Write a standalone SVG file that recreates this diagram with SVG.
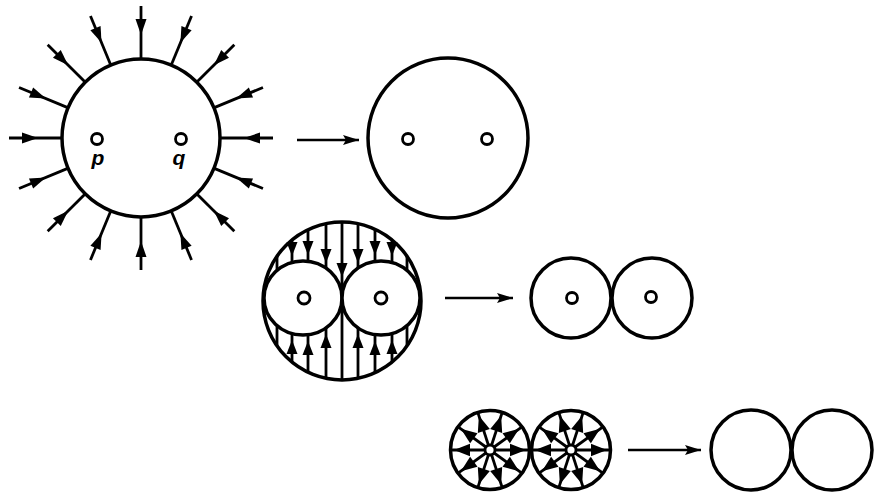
<svg xmlns="http://www.w3.org/2000/svg" xmlns:xlink="http://www.w3.org/1999/xlink" width="878" height="492" viewBox="0 0 878 492">
<style>
.big{fill:#fff;stroke:#000;stroke-width:3.5}
.hole{fill:#fff;stroke:#000;stroke-width:2.8}
.fl{stroke:#000;stroke-width:2.8;fill:none}
.head{fill:#000;stroke:none}
.conn{stroke:#000;stroke-width:2.4;fill:none}
.lbl{font-family:"Liberation Sans",Arial,sans-serif;font-weight:bold;font-style:italic;font-size:21px;fill:#000}
</style>
<defs>
<marker id="arr" markerUnits="userSpaceOnUse" markerWidth="17" markerHeight="11" refX="16" refY="5.5" orient="auto">
<path d="M0,0.5 L16,5.5 L0,10.5 L3,5.5 Z" fill="#000"/>
</marker>
<g id="inarrow">
<line class="fl" x1="78" y1="0" x2="132" y2="0"/>
<path class="head" d="M103,0 L119,-5.5 L119,5.5 Z"/>
</g>
<g id="spoke">
<line class="fl" x1="0" y1="0" x2="39" y2="0"/>
<path class="head" d="M36,0 L20,-6.3 L20,6.3 Z"/>
</g>
<path id="dn" class="head" d="M0,0 L-5.5,-14 L5.5,-14 Z"/>
<path id="up" class="head" d="M0,0 L-5.5,14 L5.5,14 Z"/>
</defs>

<g id="node-attract">
<use xlink:href="#inarrow" href="#inarrow" transform="translate(141,138) rotate(0)"/>
<use xlink:href="#inarrow" href="#inarrow" transform="translate(141,138) rotate(-22.5)"/>
<use xlink:href="#inarrow" href="#inarrow" transform="translate(141,138) rotate(-45)"/>
<use xlink:href="#inarrow" href="#inarrow" transform="translate(141,138) rotate(-67.5)"/>
<use xlink:href="#inarrow" href="#inarrow" transform="translate(141,138) rotate(-90)"/>
<use xlink:href="#inarrow" href="#inarrow" transform="translate(141,138) rotate(-112.5)"/>
<use xlink:href="#inarrow" href="#inarrow" transform="translate(141,138) rotate(-135)"/>
<use xlink:href="#inarrow" href="#inarrow" transform="translate(141,138) rotate(-157.5)"/>
<use xlink:href="#inarrow" href="#inarrow" transform="translate(141,138) rotate(180)"/>
<use xlink:href="#inarrow" href="#inarrow" transform="translate(141,138) rotate(157.5)"/>
<use xlink:href="#inarrow" href="#inarrow" transform="translate(141,138) rotate(135)"/>
<use xlink:href="#inarrow" href="#inarrow" transform="translate(141,138) rotate(112.5)"/>
<use xlink:href="#inarrow" href="#inarrow" transform="translate(141,138) rotate(90)"/>
<use xlink:href="#inarrow" href="#inarrow" transform="translate(141,138) rotate(67.5)"/>
<use xlink:href="#inarrow" href="#inarrow" transform="translate(141,138) rotate(45)"/>
<use xlink:href="#inarrow" href="#inarrow" transform="translate(141,138) rotate(22.5)"/>
<circle class="big" cx="141" cy="138" r="79"/>
<circle class="hole" cx="97" cy="139" r="5.5"/>
<circle class="hole" cx="181" cy="139" r="5.5"/>
<text class="lbl" x="98" y="165" text-anchor="middle">p</text>
<text class="lbl" x="179" y="165" text-anchor="middle">q</text>
</g>

<g id="node-merged">
<circle class="big" cx="448" cy="138" r="80"/>
<circle class="hole" cx="408" cy="139" r="5.5"/>
<circle class="hole" cx="487" cy="139" r="5.5"/>
</g>

<g id="node-split-field">
<circle class="big" cx="342" cy="301" r="79"/>
<g class="fl">
<line x1="277" y1="256" x2="277" y2="271"/>
<line x1="292" y1="240" x2="292" y2="263"/>
<line x1="308" y1="230" x2="308" y2="262"/>
<line x1="326" y1="224" x2="326" y2="269"/>
<line x1="342" y1="222" x2="342" y2="380"/>
<line x1="358" y1="224" x2="358" y2="269"/>
<line x1="375" y1="230" x2="375" y2="262"/>
<line x1="392" y1="240" x2="392" y2="263"/>
<line x1="407" y1="256" x2="407" y2="271"/>
<line x1="277" y1="325" x2="277" y2="346"/>
<line x1="292" y1="333" x2="292" y2="362"/>
<line x1="308" y1="334" x2="308" y2="372"/>
<line x1="326" y1="327" x2="326" y2="378"/>
<line x1="358" y1="327" x2="358" y2="378"/>
<line x1="375" y1="334" x2="375" y2="372"/>
<line x1="392" y1="333" x2="392" y2="362"/>
<line x1="407" y1="325" x2="407" y2="346"/>
</g>
<use xlink:href="#dn" href="#dn" transform="translate(292,256)"/>
<use xlink:href="#dn" href="#dn" transform="translate(308,255)"/>
<use xlink:href="#dn" href="#dn" transform="translate(326,263)"/>
<use xlink:href="#dn" href="#dn" transform="translate(342,277)"/>
<use xlink:href="#dn" href="#dn" transform="translate(358,263)"/>
<use xlink:href="#dn" href="#dn" transform="translate(375,255)"/>
<use xlink:href="#dn" href="#dn" transform="translate(392,256)"/>
<use xlink:href="#up" href="#up" transform="translate(292,340)"/>
<use xlink:href="#up" href="#up" transform="translate(308,341)"/>
<use xlink:href="#up" href="#up" transform="translate(326,334)"/>
<use xlink:href="#up" href="#up" transform="translate(358,334)"/>
<use xlink:href="#up" href="#up" transform="translate(375,341)"/>
<use xlink:href="#up" href="#up" transform="translate(392,340)"/>
<ellipse class="big" cx="303" cy="298" rx="39" ry="37"/>
<ellipse class="big" cx="381" cy="298" rx="39" ry="37"/>
<circle class="hole" cx="304" cy="298" r="6"/>
<circle class="hole" cx="381" cy="298" r="6"/>
</g>

<g id="node-pair">
<circle class="big" cx="571" cy="298" r="40"/>
<circle class="big" cx="652" cy="298" r="40"/>
<circle class="hole" cx="572" cy="298" r="5.5"/>
<circle class="hole" cx="651" cy="297" r="5.5"/>
</g>

<g id="node-radiating">
<circle class="big" cx="490" cy="450" r="39.5"/>
<circle class="big" cx="571" cy="450" r="39.5"/>
<use xlink:href="#spoke" href="#spoke" transform="translate(490,450) rotate(0)"/>
<use xlink:href="#spoke" href="#spoke" transform="translate(490,450) rotate(-36)"/>
<use xlink:href="#spoke" href="#spoke" transform="translate(490,450) rotate(-72)"/>
<use xlink:href="#spoke" href="#spoke" transform="translate(490,450) rotate(-108)"/>
<use xlink:href="#spoke" href="#spoke" transform="translate(490,450) rotate(-144)"/>
<use xlink:href="#spoke" href="#spoke" transform="translate(490,450) rotate(180)"/>
<use xlink:href="#spoke" href="#spoke" transform="translate(490,450) rotate(144)"/>
<use xlink:href="#spoke" href="#spoke" transform="translate(490,450) rotate(108)"/>
<use xlink:href="#spoke" href="#spoke" transform="translate(490,450) rotate(72)"/>
<use xlink:href="#spoke" href="#spoke" transform="translate(490,450) rotate(36)"/>
<use xlink:href="#spoke" href="#spoke" transform="translate(571,450) rotate(0)"/>
<use xlink:href="#spoke" href="#spoke" transform="translate(571,450) rotate(-36)"/>
<use xlink:href="#spoke" href="#spoke" transform="translate(571,450) rotate(-72)"/>
<use xlink:href="#spoke" href="#spoke" transform="translate(571,450) rotate(-108)"/>
<use xlink:href="#spoke" href="#spoke" transform="translate(571,450) rotate(-144)"/>
<use xlink:href="#spoke" href="#spoke" transform="translate(571,450) rotate(180)"/>
<use xlink:href="#spoke" href="#spoke" transform="translate(571,450) rotate(144)"/>
<use xlink:href="#spoke" href="#spoke" transform="translate(571,450) rotate(108)"/>
<use xlink:href="#spoke" href="#spoke" transform="translate(571,450) rotate(72)"/>
<use xlink:href="#spoke" href="#spoke" transform="translate(571,450) rotate(36)"/>
<circle class="hole" cx="490" cy="450" r="5"/>
<circle class="hole" cx="571" cy="450" r="5"/>
</g>

<g id="node-plain-pair">
<circle class="big" cx="751" cy="450" r="40"/>
<circle class="big" cx="832" cy="450" r="40"/>
</g>

<g id="connectors">
<line class="conn" x1="297" y1="140" x2="359" y2="140" marker-end="url(#arr)"/>
<line class="conn" x1="445" y1="298" x2="513" y2="298" marker-end="url(#arr)"/>
<line class="conn" x1="628" y1="450" x2="701" y2="450" marker-end="url(#arr)"/>
</g>
</svg>
